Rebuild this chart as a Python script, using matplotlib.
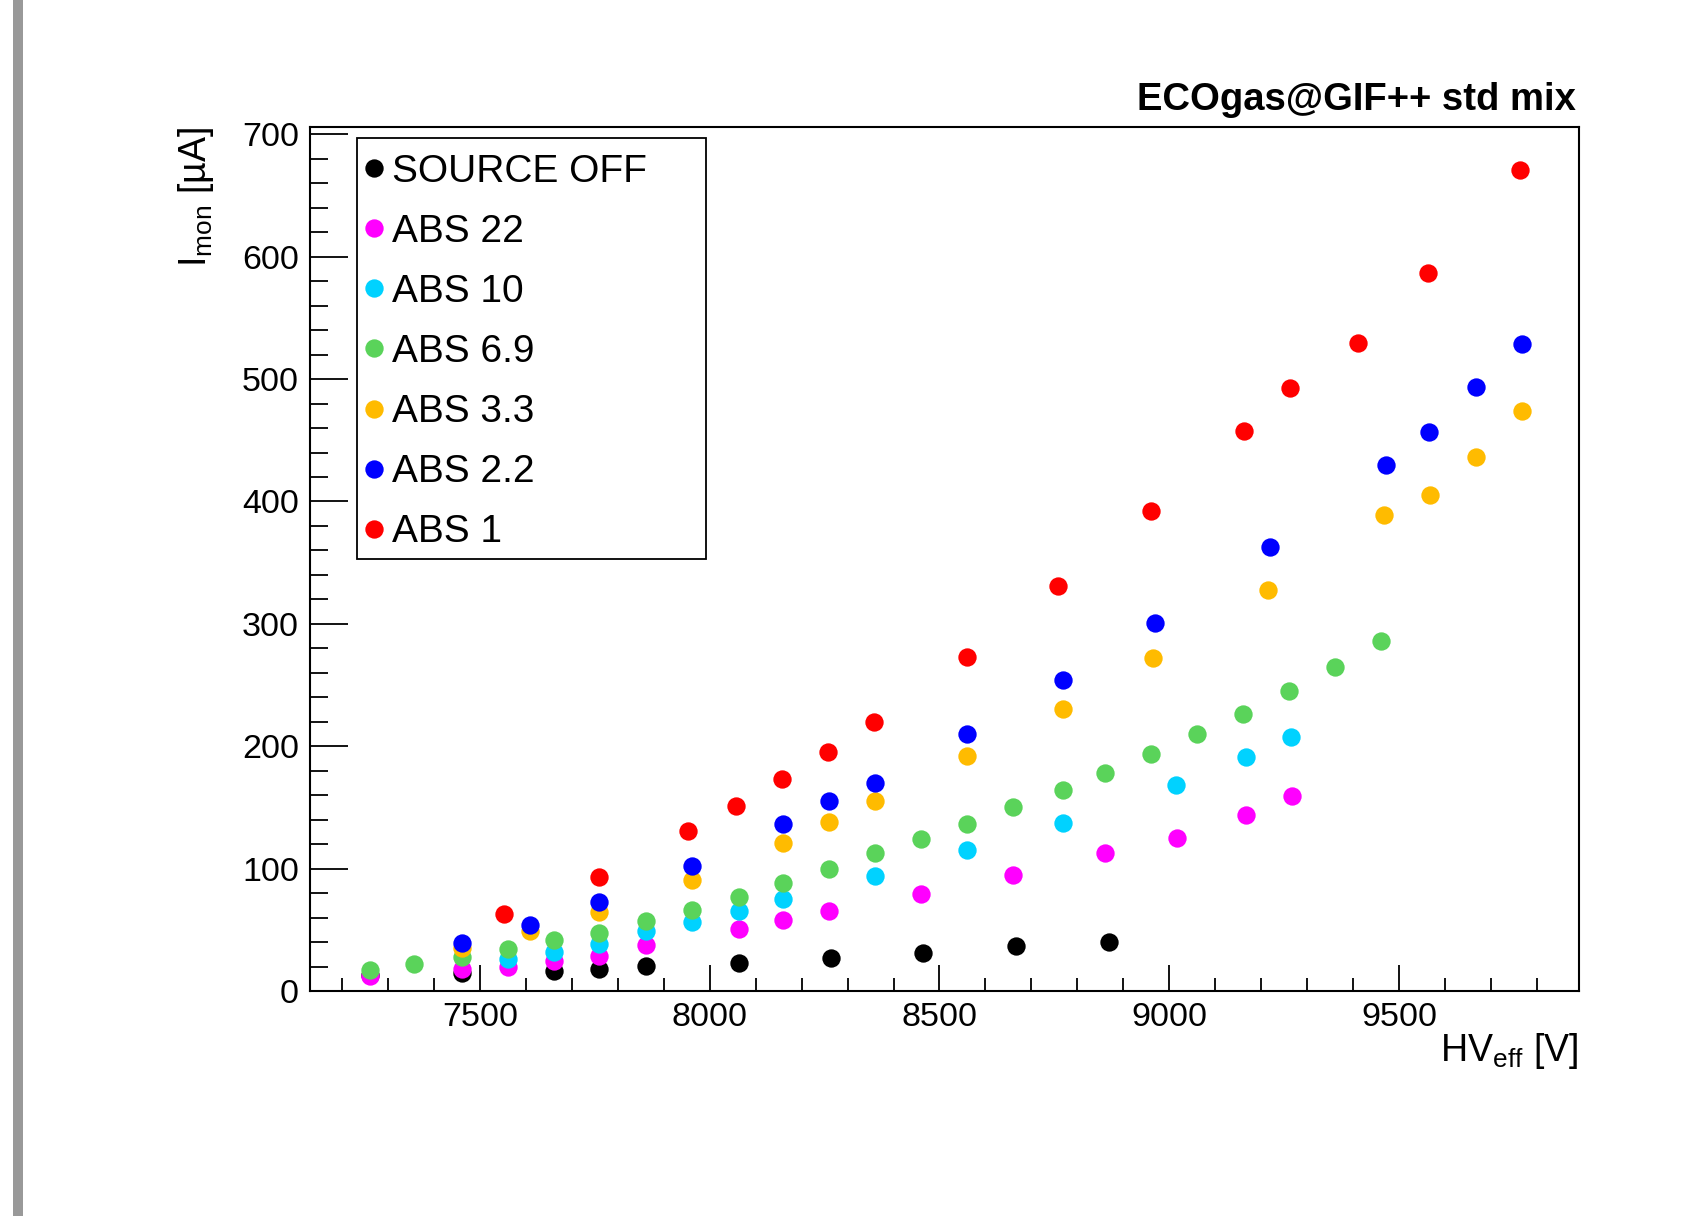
import matplotlib
matplotlib.use("Agg")
import matplotlib.pyplot as plt
from matplotlib.ticker import MultipleLocator
from matplotlib.patches import Rectangle

plt.rcParams['font.family'] = ['Liberation Sans', 'DejaVu Sans']
plt.rcParams['mathtext.fontset'] = 'custom'
plt.rcParams['mathtext.rm'] = 'Liberation Sans'
plt.rcParams['mathtext.it'] = 'Liberation Sans:italic'

# ---- data (HV_eff [V], I_mon [uA]) ----
off_x = [7260, 7460, 7660, 7760, 7862, 8063, 8264, 8465, 8666, 8868]
off_y = [13, 14.6, 16.3, 18.2, 20.4, 23.2, 27, 31.3, 36.5, 40]

a22_x = [7260, 7460, 7561, 7661, 7760, 7862, 8063, 8160, 8260, 8460, 8660, 8860, 9016, 9167, 9267]
a22_y = [12, 17.9, 19.5, 24.2, 28.3, 37.9, 50.9, 57.7, 65.1, 79.2, 95.1, 112.8, 125, 144.2, 159.2]

a10_x = [7561, 7661, 7760, 7862, 7961, 8063, 8160, 8360, 8560, 8768, 9014, 9167, 9265]
a10_y = [26.4, 31.8, 38.1, 49, 56.3, 65.2, 74.9, 93.7, 115, 137, 168.2, 190.9, 207.2]

a69_x = [7260, 7357, 7460, 7561, 7661, 7759, 7862, 7961, 8063, 8160, 8260, 8360, 8459,
         8560, 8660, 8768, 8860, 8960, 9060, 9161, 9261, 9362, 9462]
a69_y = [16.8, 22, 27.7, 34.3, 41.9, 47.7, 56.9, 65.9, 76.9, 88, 100, 112.8, 124.5,
         136.8, 150.1, 164, 178.2, 193.7, 210, 226.3, 245.1, 264.8, 286]

a33_x = [7460, 7608, 7760, 7961, 8160, 8260, 8360, 8560, 8768, 8965, 9216, 9468, 9568, 9668, 9768]
a33_y = [35, 48.7, 64.5, 91, 120.9, 137.9, 155, 191.8, 230.3, 272.2, 327.3, 389, 404.9, 436.6, 473.8]

a22b_x = [7460, 7608, 7760, 7961, 8160, 8260, 8360, 8560, 8768, 8969, 9220, 9472, 9566, 9667, 9767]
a22b_y = [39.2, 53.6, 72.7, 102.1, 136.2, 155.3, 170, 210.4, 254, 300.6, 362.8, 429.5, 456.7, 493.4, 528.8]

a1_x = [7553, 7760, 7953, 8057, 8158, 8258, 8358, 8560, 8758, 8961, 9162, 9263, 9412, 9563, 9764]
a1_y = [62.6, 93.1, 130.7, 151.2, 173, 195.3, 220.2, 272.8, 330.7, 392.4, 457.9, 492.9, 529.6, 586.3, 671]

labels = ["SOURCE OFF", "ABS 22", "ABS 10", "ABS 6.9", "ABS 3.3", "ABS 2.2", "ABS 1"]
colors = ["#000000", "#ff00ff", "#00d2ff", "#5ad35a", "#ffbb00", "#0000ff", "#ff0000"]
series = [(off_x, off_y), (a22_x, a22_y), (a10_x, a10_y), (a69_x, a69_y),
          (a33_x, a33_y), (a22b_x, a22b_y), (a1_x, a1_y)]

W, H = 1705, 1216
fig = plt.figure(figsize=(W / 100, H / 100), dpi=100)
fig.patch.set_facecolor('white')

# grey bar at the left edge
fig.add_artist(Rectangle((13 / W, 0), 10 / W, 1, transform=fig.transFigure,
                         facecolor='#999999', edgecolor='none'))

L, R, T, B = 310, 1579, 127, 991
ax = fig.add_axes([L / W, 1 - B / H, (R - L) / W, (B - T) / H])

handles = []
for (x, y), c, lab in zip(series, colors, labels):
    h, = ax.plot(x, y, linestyle='none', marker='o', markersize=13.2,
                 markerfacecolor=c, markeredgecolor=c, markeredgewidth=0, label=lab)
    handles.append(h)

ax.set_xlim(7130, 9892)
ax.set_ylim(0, 706)
ax.xaxis.set_major_locator(MultipleLocator(500))
ax.xaxis.set_minor_locator(MultipleLocator(100))
ax.yaxis.set_major_locator(MultipleLocator(100))
ax.yaxis.set_minor_locator(MultipleLocator(20))
ax.tick_params(axis='both', which='both', direction='in', top=False, right=False,
               labelsize=24.5, width=1.3, color='black')
ax.tick_params(axis='x', which='major', length=19, pad=8)
ax.tick_params(axis='x', which='minor', length=9.5)
ax.tick_params(axis='y', which='major', length=27, pad=8)
ax.tick_params(axis='y', which='minor', length=13)
for s in ax.spines.values():
    s.set_linewidth(1.5)

# title and axis titles
fig.text(1576 / W, 1 - 110 / H, "ECOgas@GIF++ std mix", ha='right', va='baseline',
         fontsize=27.5, fontweight='bold')
fig.text(1578 / W, 1 - 1061 / H, r"HV$_{\mathrm{eff}}$ [V]", ha='right', va='baseline',
         fontsize=27)
fig.text(196 / W, 1 - 127 / H, r"I$_{\mathrm{mon}}$ [µA]", ha='center', va='top',
         rotation=90, fontsize=27)

# legend
leg = fig.legend(handles=handles, labels=labels, loc='upper left',
                 bbox_to_anchor=(353 / W, 1 - 142 / H), bbox_transform=fig.transFigure,
                 frameon=False, fontsize=28, handlelength=0.5, handletextpad=0.2,
                 labelspacing=0.62, borderpad=0.3, borderaxespad=0, markerscale=1.0)
fig.add_artist(Rectangle((357 / W, 1 - 559 / H), (706 - 357) / W, (559 - 138) / H,
                         transform=fig.transFigure, facecolor='white',
                         edgecolor='black', linewidth=1.3, zorder=2))
leg.set_zorder(3)

fig.savefig("out.png", dpi=100)
